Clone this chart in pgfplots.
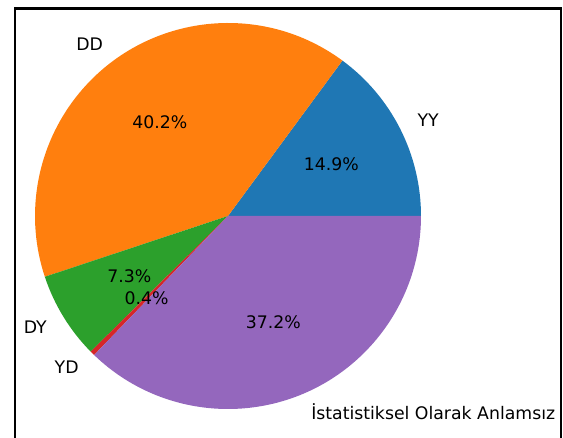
\documentclass[border=0pt]{standalone}
\usepackage{pgfplots}
\pgfplotsset{compat=1.18}
\usepackage{fontspec}
\setmainfont{DejaVu Sans}
\definecolor{c0}{HTML}{1F77B4}
\definecolor{c1}{HTML}{FF7F0E}
\definecolor{c2}{HTML}{2CA02C}
\definecolor{c3}{HTML}{D62728}
\definecolor{c4}{HTML}{9467BD}
\tikzset{lab/.style={inner sep=0,font=\fontsize{17.3}{20}\selectfont}}
\begin{document}
\begin{tikzpicture}
\path[use as bounding box] (0,0) rectangle (563pt,437pt);
\clip (0,0) rectangle (563pt,437pt);
% slice values (percent)
\def\vA{14.9}\def\vB{40.2}\def\vC{7.3}\def\vD{0.4}\def\vE{37.2}
\pgfmathsetmacro\aA{0}
\pgfmathsetmacro\aB{\aA+3.6*\vA}
\pgfmathsetmacro\aC{\aB+3.6*\vB}
\pgfmathsetmacro\aD{\aC+3.6*\vC}
\pgfmathsetmacro\aE{\aD+3.6*\vD}
\pgfmathsetmacro\aF{\aE+3.6*\vE}
\pgfmathsetmacro\mA{(\aA+\aB)/2}
\pgfmathsetmacro\mB{(\aB+\aC)/2}
\pgfmathsetmacro\mC{(\aC+\aD)/2}
\pgfmathsetmacro\mD{(\aD+\aE)/2}
\pgfmathsetmacro\mE{(\aE+\aF)/2}
\def\R{193pt}\def\RL{212.3pt}\def\RP{115.8pt}
\begin{axis}[x=1pt,y=1pt,xmin=0,xmax=563,ymin=0,ymax=437,hide axis,clip=false,
  at={(0,0)},anchor=south west]
\draw[line width=2.2pt] (axis cs:14.6,-20) -- (axis cs:14.6,428.4) -- (axis cs:561.2,428.4) -- (axis cs:561.2,-20);
\fill[c0] (axis cs:228,221) -- ++(\aA:\R) arc[start angle=\aA, end angle=\aB, radius=\R] -- cycle;
\fill[c1] (axis cs:228,221) -- ++(\aB:\R) arc[start angle=\aB, end angle=\aC, radius=\R] -- cycle;
\fill[c2] (axis cs:228,221) -- ++(\aC:\R) arc[start angle=\aC, end angle=\aD, radius=\R] -- cycle;
\fill[c3] (axis cs:228,221) -- ++(\aD:\R) arc[start angle=\aD, end angle=\aE, radius=\R] -- cycle;
\fill[c4] (axis cs:228,221) -- ++(\aE:\R) arc[start angle=\aE, end angle=\aF, radius=\R] -- cycle;
\path (axis cs:228,221) ++(\mA:\RL) node[lab,anchor=west] {YY};
\path (axis cs:228,221) ++(\mB:\RL) node[lab,anchor=east] {DD};
\path (axis cs:228,221) ++(\mC:\RL) node[lab,anchor=east] {DY};
\path (axis cs:228,221) ++(\mD:\RL) node[lab,anchor=east] {YD};
\path (axis cs:228,221) ++(\mE:\RL) node[lab,anchor=west] {İstatistiksel Olarak Anlamsız};
\path (axis cs:228,221) ++(\mA:\RP) node[lab] {14.9\%};
\path (axis cs:228,221) ++(\mB:\RP) node[lab] {40.2\%};
\path (axis cs:228,221) ++(\mC:\RP) node[lab] {7.3\%};
\path (axis cs:228,221) ++(\mD:\RP) node[lab] {0.4\%};
\path (axis cs:228,221) ++(\mE:\RP) node[lab] {37.2\%};
\end{axis}
\end{tikzpicture}
\end{document}
